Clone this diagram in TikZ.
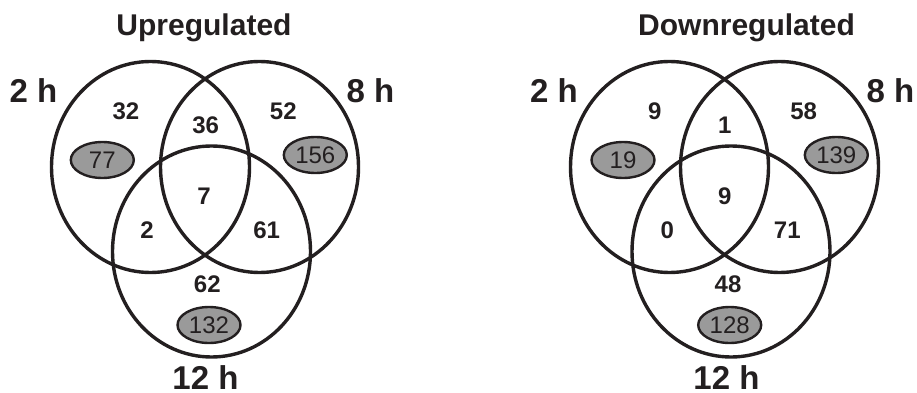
\documentclass[tikz,border=0pt]{standalone}
\usepackage{fontspec}
\setmainfont{Liberation Sans}
\usetikzlibrary{shapes.geometric}
\definecolor{shade}{HTML}{9A9A9A}
\definecolor{ink}{HTML}{231F20}
\tikzset{
  setcircle/.style={ellipse, draw=ink, line width=3.4pt, minimum width=198pt, minimum height=211pt, inner sep=0pt},
  title/.style={font=\fontsize{30}{30}\selectfont\bfseries, text=ink, inner sep=0pt},
  setlabel/.style={font=\fontsize{33}{33}\selectfont\bfseries, text=ink, inner sep=0pt},
  count/.style={font=\fontsize{24}{24}\selectfont\bfseries, text=ink, inner sep=0pt},
  total/.style={ellipse, draw=ink, line width=2.4pt, fill=shade, minimum width=63pt, minimum height=36pt, inner sep=0pt, font=\fontsize{24}{24}\selectfont, text=ink},
}
\begin{document}
\begin{tikzpicture}[x=1pt,y=-1pt]
\useasboundingbox (0,0) rectangle (917,393);
% ---------- Upregulated ----------
\node[title] (uptitle) at (204,28) {Upregulated};
\node[setcircle] (uA) at (150.5,167) {};
\node[setcircle] (uB) at (259.5,167) {};
\node[setcircle] (uC) at (211.5,251.5) {};
\node[setlabel] (uAl) at (33.5,91) {2 h};
\node[setlabel] (uBl) at (370.5,91) {8 h};
\node[setlabel] (uCl) at (205.5,378) {12 h};
\node[count] (u1) at (126,111) {32};
\node[count] (u2) at (205.7,125.7) {36};
\node[count] (u3) at (283.3,111) {52};
\node[count] (u4) at (204,196.7) {7};
\node[count] (u5) at (147,230) {2};
\node[count] (u6) at (266.7,230) {61};
\node[count] (u7) at (207.3,284) {62};
\node[total] (ut1) at (102.3,160) {77};
\node[total] (ut2) at (315.3,155) {156};
\node[total] (ut3) at (209,325) {132};
% ---------- Downregulated ----------
\node[title] (dntitle) at (746.5,28) {Downregulated};
\node[setcircle] (dA) at (669.5,167) {};
\node[setcircle] (dB) at (779.5,167) {};
\node[setcircle] (dC) at (731,251.5) {};
\node[setlabel] (dAl) at (554,91) {2 h};
\node[setlabel] (dBl) at (890.5,91) {8 h};
\node[setlabel] (dCl) at (726.5,378) {12 h};
\node[count] (d1) at (654.7,111) {9};
\node[count] (d2) at (724.7,125.7) {1};
\node[count] (d3) at (803.7,111) {58};
\node[count] (d4) at (724.7,196.7) {9};
\node[count] (d5) at (667.3,230) {0};
\node[count] (d6) at (787.3,230) {71};
\node[count] (d7) at (728,284) {48};
\node[total] (dt1) at (623,160) {19};
\node[total] (dt2) at (836.3,155) {139};
\node[total] (dt3) at (729.7,325) {128};
\end{tikzpicture}
\end{document}
